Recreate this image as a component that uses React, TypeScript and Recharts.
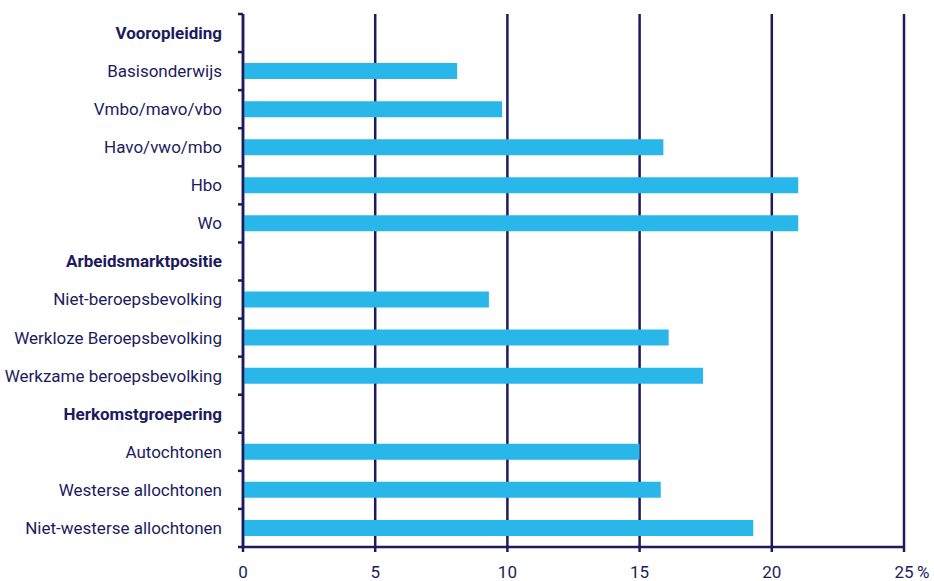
import React from 'react';
import { BarChart, Bar, XAxis, YAxis, CartesianGrid } from 'recharts';

const categories = [
    'Vooropleiding',
    'Basisonderwijs',
    'Vmbo/mavo/vbo',
    'Havo/vwo/mbo',
    'Hbo',
    'Wo',
    'Arbeidsmarktpositie',
    'Niet-beroepsbevolking',
    'Werkloze Beroepsbevolking',
    'Werkzame beroepsbevolking',
    'Herkomstgroepering',
    'Autochtonen',
    'Westerse allochtonen',
    'Niet-westerse allochtonen',
];
const headers = ['Vooropleiding', 'Arbeidsmarktpositie', 'Herkomstgroepering'];
const values: (number | null)[] = [null, 8.1, 9.8, 15.9, 21.0, 21.0, null, 9.3, 16.1, 17.4, null, 15.0, 15.8, 19.3];
const xTicks = [0, 5, 10, 15, 20, 25];

const data = categories.map((name, i) => ({ name, value: values[i] }));

const W = 934;
const H = 581;
const TOP = 14;
const BOTTOM = 34;
const BAND = (H - TOP - BOTTOM) / categories.length;
const NAVY = '#1c1b5e';
const BLUE = '#29b6e9';
const FONT = 'Roboto, sans-serif';

function YTick(props: any) {
    const { x, y, payload, index } = props;
    const bold = headers.includes(payload.value);
    return (
        <g>
            <line x1={x - 5} x2={x} y1={y - BAND / 2} y2={y - BAND / 2} stroke={NAVY} strokeWidth={2.5} />
            {index === categories.length - 1 && (
                <line x1={x - 5} x2={x} y1={y + BAND / 2} y2={y + BAND / 2} stroke={NAVY} strokeWidth={2.5} />
            )}
            <text x={x - 21} y={y} dy="0.35em" textAnchor="end" fill={NAVY} fontSize={17} fontWeight={bold ? 700 : 400} fontFamily={FONT}>
                {payload.value}
            </text>
        </g>
    );
}

function XTick(props: any) {
    const { x, y, payload } = props;
    return (
        <g>
            <text x={x} y={y} dy="0.71em" textAnchor="middle" fill={NAVY} fontSize={17} fontFamily={FONT}>
                {payload.value}
            </text>
            {payload.value === 25 && (
                <text x={x + 13} y={y} dy="0.71em" textAnchor="start" fill={NAVY} fontSize={17} fontFamily={FONT}>
                    %
                </text>
            )}
        </g>
    );
}

export default function App() {
    return (
        <div style={{ position: 'absolute', left: 0, top: 0, width: W, height: H, background: '#fff' }}>
            <BarChart width={W} height={H} data={data} layout="vertical" margin={{ top: TOP, right: 30, bottom: 0, left: 0 }}>
                <CartesianGrid horizontal={false} vertical stroke={NAVY} strokeWidth={2.5} />
                <XAxis
                    type="number"
                    domain={[0, 25]}
                    ticks={xTicks}
                    height={BOTTOM}
                    stroke={NAVY}
                    strokeWidth={2.5}
                    tickSize={5}
                    tickMargin={14}
                    tick={<XTick />}
                    interval={0}
                />
                <YAxis
                    type="category"
                    dataKey="name"
                    width={243}
                    stroke={NAVY}
                    strokeWidth={2.5}
                    tickLine={false}
                    tickSize={0}
                    tickMargin={0}
                    tick={<YTick />}
                    interval={0}
                />
                <Bar dataKey="value" fill={BLUE} barSize={16} isAnimationActive={false} />
            </BarChart>
        </div>
    );
}
